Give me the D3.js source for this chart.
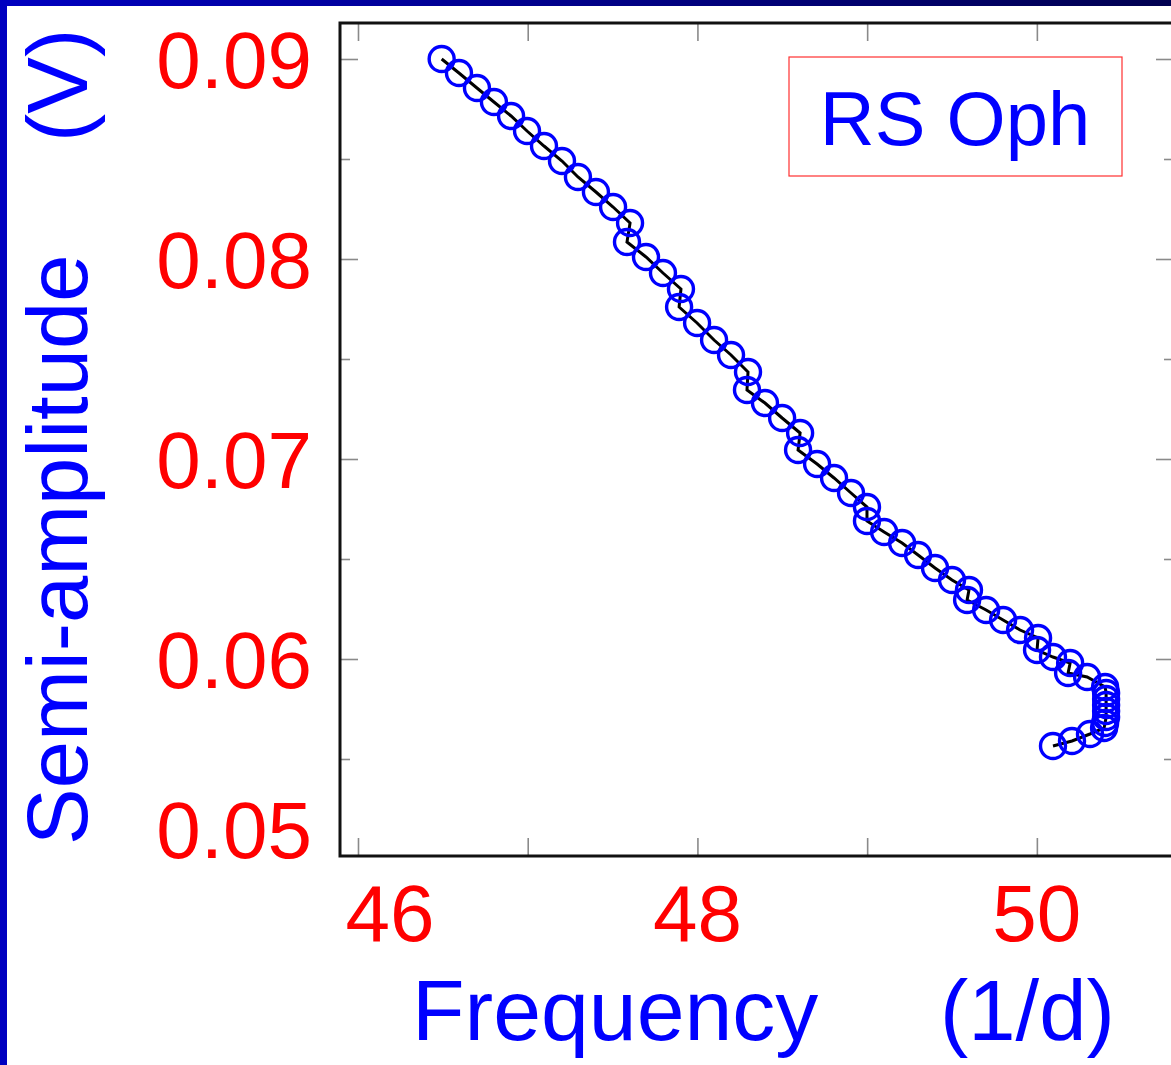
<!DOCTYPE html>
<html>
<head>
<meta charset="utf-8">
<script src="https://cdn.jsdelivr.net/npm/d3@7"></script>
<style>
  html, body { margin: 0; padding: 0; background: #ffffff; }
  svg { display: block; }
  text { font-family: "Liberation Sans", Arial, Helvetica, sans-serif; }
</style>
</head>
<body>
<script>
// ---- data ----
const frequency = [
  46.493, 46.595, 46.701, 46.801, 46.902, 46.996, 47.096, 47.202, 47.296, 47.402,
  47.503, 47.603, 47.585, 47.697, 47.797, 47.903, 47.892, 47.998, 48.098, 48.198,
  48.298, 48.292, 48.398, 48.499, 48.605, 48.593, 48.705, 48.805, 48.905, 48.999,
  48.999, 49.100, 49.206, 49.300, 49.400, 49.500, 49.600, 49.589, 49.701, 49.801,
  49.901, 50.007, 50.001, 50.095, 50.196, 50.184, 50.296, 50.402, 50.408, 50.408,
  50.408, 50.408, 50.408, 50.402, 50.396, 50.313, 50.207, 50.095
];
const semiAmplitude = [
  0.09000, 0.08930, 0.08855, 0.08785, 0.08715, 0.08640, 0.08565, 0.08490, 0.08410, 0.08335,
  0.08260, 0.08180, 0.08085, 0.08010, 0.07930, 0.07850, 0.07760, 0.07680, 0.07595, 0.07520,
  0.07435, 0.07345, 0.07280, 0.07205, 0.07130, 0.07045, 0.06975, 0.06905, 0.06830, 0.06760,
  0.06690, 0.06635, 0.06580, 0.06520, 0.06455, 0.06395, 0.06345, 0.06295, 0.06245, 0.06195,
  0.06145, 0.06105, 0.06045, 0.06010, 0.05980, 0.05930, 0.05910, 0.05860, 0.05830, 0.05800,
  0.05770, 0.05740, 0.05710, 0.05680, 0.05655, 0.05625, 0.05590, 0.05565
];
const xTickValues = [46, 47, 48, 49, 50];
const xTickLabels = ["46", "48", "50"];
const yMajorTicks = [0.05, 0.06, 0.07, 0.08, 0.09];
const yMinorTicks = [0.055, 0.065, 0.075, 0.085];
const yTickLabels = ["0.05", "0.06", "0.07", "0.08", "0.09"];
const xTitle = ["Frequency", "(1/d)"];
const yTitle = ["Semi-amplitude", "(V)"];
const legendLabel = "RS Oph";

// ---- layout ----
const W = 1171, H = 1065;
const frame = { left: 340, top: 23, right: 1174, bottom: 856 };

const svg = d3.select("body").append("svg").attr("width", W).attr("height", H);

// slide decoration: blue bars
const defs = svg.append("defs");
const grad = defs.append("linearGradient").attr("id", "topbar").attr("x1", 0).attr("x2", 1).attr("y1", 0).attr("y2", 0);
grad.append("stop").attr("offset", "0%").attr("stop-color", "#0000c0");
grad.append("stop").attr("offset", "100%").attr("stop-color", "#000050");
svg.append("rect").attr("x", 0).attr("y", 0).attr("width", W).attr("height", 6).attr("fill", "url(#topbar)");
svg.append("rect").attr("x", 0).attr("y", 0).attr("width", 7).attr("height", H).attr("fill", "#0000c0");

const x = d3.scaleLinear().domain([45.894, 50.808]).range([frame.left, frame.right]);
const y = d3.scaleLinear().domain([0.05015, 0.0918]).range([frame.bottom, frame.top]);

const tickColor = "#8a8a8a";
const g = svg.append("g");

// x ticks (bottom + top, inward)
const xAxisBottom = d3.axisTop(x).tickValues(xTickValues).tickSize(18).tickFormat("");
const xAxisTop = d3.axisBottom(x).tickValues(xTickValues).tickSize(18).tickFormat("");
g.append("g").attr("transform", `translate(0,${frame.bottom})`).call(xAxisBottom);
g.append("g").attr("transform", `translate(0,${frame.top})`).call(xAxisTop);

// y ticks (left + right, inward) major + minor
g.append("g").attr("transform", `translate(${frame.left},0)`).call(d3.axisRight(y).tickValues(yMajorTicks.filter(v => v > 0.0502)).tickSize(18).tickFormat(""));
g.append("g").attr("transform", `translate(${frame.left},0)`).call(d3.axisRight(y).tickValues(yMinorTicks).tickSize(10).tickFormat(""));
g.append("g").attr("transform", `translate(${frame.right},0)`).call(d3.axisLeft(y).tickValues(yMajorTicks.filter(v => v > 0.0502)).tickSize(18).tickFormat(""));
g.append("g").attr("transform", `translate(${frame.right},0)`).call(d3.axisLeft(y).tickValues(yMinorTicks).tickSize(10).tickFormat(""));
g.selectAll(".domain").remove();
g.selectAll(".tick line").attr("stroke", tickColor).attr("stroke-width", 1.6);

// frame
svg.append("rect")
  .attr("x", frame.left).attr("y", frame.top)
  .attr("width", frame.right - frame.left).attr("height", frame.bottom - frame.top)
  .attr("fill", "none").attr("stroke", "#111").attr("stroke-width", 3);

// tick labels
svg.append("g").selectAll("text").data(yMajorTicks).join("text")
  .attr("x", 312)
  .attr("y", (d, i) => y(d) + (i === 0 ? -30 : 0))
  .attr("dy", "0.36em")
  .attr("text-anchor", "end")
  .attr("font-size", 80)
  .attr("fill", "#ff0000")
  .text((d, i) => yTickLabels[i]);

const xLabelVals = xTickLabels.map(Number);
svg.append("g").selectAll("text").data(xLabelVals).join("text")
  .attr("x", (d, i) => x(d) + (i === 0 ? 32 : 0))
  .attr("y", 941)
  .attr("text-anchor", "middle")
  .attr("font-size", 80)
  .attr("fill", "#ff0000")
  .text((d, i) => xTickLabels[i]);

// axis titles
svg.append("text").attr("x", 412).attr("y", 1040).attr("font-size", 86).attr("fill", "#0000ff").text(xTitle[0]);
svg.append("text").attr("x", 940).attr("y", 1040).attr("font-size", 85).attr("fill", "#0000ff").text(xTitle[1]);
svg.append("text").attr("transform", "translate(87,845) rotate(-90)").attr("font-size", 85).attr("fill", "#0000ff").text(yTitle[0]);
svg.append("text").attr("transform", "translate(87,142) rotate(-90)").attr("font-size", 85).attr("fill", "#0000ff").text(yTitle[1]);

// data
const pts = frequency.map((f, i) => [f, semiAmplitude[i]]);
const plot = svg.append("g");
plot.append("path")
  .datum(pts)
  .attr("d", d3.line().x(d => x(d[0])).y(d => y(d[1])))
  .attr("fill", "none").attr("stroke", "#000").attr("stroke-width", 3);
plot.selectAll("circle").data(pts).join("circle")
  .attr("cx", d => x(d[0])).attr("cy", d => y(d[1])).attr("r", 12.5)
  .attr("fill", "none").attr("stroke", "#0000ff").attr("stroke-width", 3.4);

// legend
svg.append("rect").attr("x", 789).attr("y", 57).attr("width", 333).attr("height", 119)
  .attr("fill", "#fff").attr("stroke", "#ff3030").attr("stroke-width", 1.2);
svg.append("text").attr("x", 955).attr("y", 145).attr("text-anchor", "middle")
  .attr("font-size", 76).attr("fill", "#0000ff").text(legendLabel);
</script>
</body>
</html>
